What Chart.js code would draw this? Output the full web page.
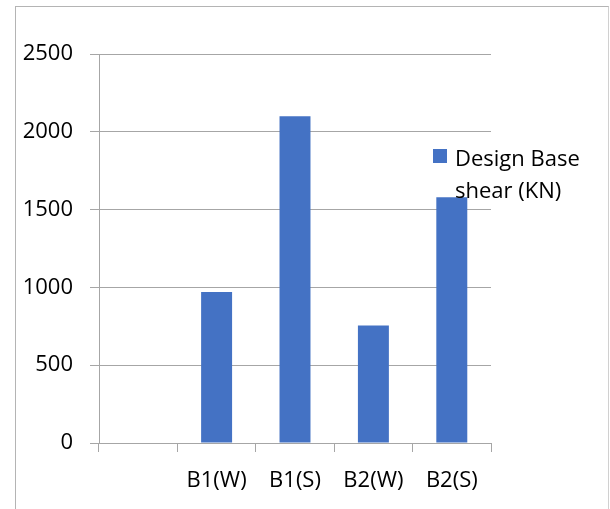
<!DOCTYPE html>
<html>
<head>
<meta charset="utf-8">
<script src="https://cdn.jsdelivr.net/npm/chart.js@4/dist/chart.umd.min.js"></script>
<style>
  html, body { margin: 0; padding: 0; background: #ffffff; }
  #wrap { position: relative; width: 610px; height: 509px; }
  #frame {
    position: absolute; left: 15px; top: 6px; width: 594px; height: 520px;
    border-left: 1.5px solid #b4b4b4; border-top: 1.5px solid #b4b4b4; border-right: 1px solid #d0d0d0;
    box-sizing: border-box; pointer-events: none;
  }
</style>
</head>
<body>
<div id="wrap">
  <canvas id="c" width="610" height="509"></canvas>
  <div id="frame"></div>
</div>
<script>
// Design base shear per building and direction
const categories = ["", "B1(W)", "B1(S)", "B2(W)", "B2(S)"];
const baseShear = [null, 970, 2100, 755, 1580];
const seriesName = "Design Base shear (KN)";
const legendLines = ["Design Base", "shear (KN)"];
const yTicks = [0, 500, 1000, 1500, 2000, 2500];

const FONT = "'Open Sans', 'Noto Sans', sans-serif";
const FONT_SIZE = 22;
const BLUE = "#4472c4";
const GRID = "#a6a6a6";

// Legend drawn at the right of the plot, wrapped onto two lines
const sideLegend = {
  id: "sideLegend",
  afterDatasetsDraw(chart) {
    const ctx = chart.ctx;
    ctx.save();
    ctx.fillStyle = BLUE;
    ctx.fillRect(433, 149, 14, 14);
    ctx.fillStyle = "#000000";
    ctx.font = FONT_SIZE + "px " + FONT;
    ctx.textBaseline = "alphabetic";
    ctx.textAlign = "left";
    ctx.fillText(legendLines[0], 455, 166);
    ctx.fillText(legendLines[1], 455, 198);
    ctx.restore();
  }
};

new Chart(document.getElementById("c"), {
  type: "bar",
  data: {
    labels: categories,
    datasets: [{
      label: seriesName,
      data: baseShear,
      backgroundColor: BLUE,
      borderWidth: 0,
      barPercentage: 1,
      categoryPercentage: 0.395
    }]
  },
  options: {
    responsive: false,
    animation: false,
    devicePixelRatio: 1,
    layout: { padding: { top: 54, right: 119, bottom: 0, left: 0 } },
    plugins: { legend: { display: false }, tooltip: { enabled: false } },
    scales: {
      x: {
        offset: true,
        grid: { offset: true, drawOnChartArea: false, drawTicks: true, tickLength: 9, color: GRID, lineWidth: 1 },
        border: { display: true, color: GRID, width: 1 },
        ticks: { color: "#000000", font: { family: FONT, size: FONT_SIZE }, padding: 16, maxRotation: 0, autoSkip: false },
        afterFit(scale) { scale.height = 66; }
      },
      y: {
        min: 0,
        max: 2500,
        afterBuildTicks(scale) { scale.ticks = yTicks.map(v => ({ value: v })); },
        grid: { color: GRID, lineWidth: 1, tickLength: 9 },
        border: { display: true, color: GRID, width: 1 },
        ticks: { color: "#000000", font: { family: FONT, size: FONT_SIZE }, padding: 17, callback: v => String(v) },
        afterFit(scale) { scale.width = 99; }
      }
    }
  },
  plugins: [sideLegend]
});
</script>
</body>
</html>
